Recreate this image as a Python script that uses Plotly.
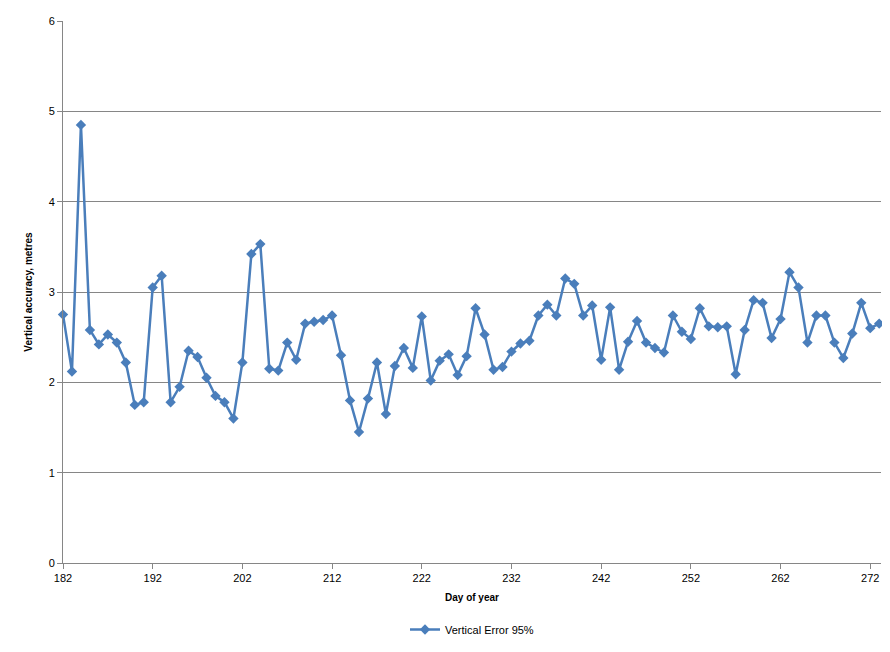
import plotly.graph_objects as go

days = list(range(182, 274))
vertical_error_95 = [2.75, 2.12, 4.85, 2.58, 2.42, 2.53, 2.44, 2.22, 1.75, 1.78,
    3.05, 3.18, 1.78, 1.95, 2.35, 2.28, 2.05, 1.85, 1.78, 1.60,
    2.22, 3.42, 3.53, 2.15, 2.13, 2.44, 2.25, 2.65, 2.67, 2.69,
    2.74, 2.30, 1.80, 1.45, 1.82, 2.22, 1.65, 2.18, 2.38, 2.16,
    2.73, 2.02, 2.24, 2.31, 2.08, 2.29, 2.82, 2.53, 2.14, 2.17,
    2.34, 2.43, 2.46, 2.74, 2.86, 2.74, 3.15, 3.09, 2.74, 2.85,
    2.25, 2.83, 2.14, 2.45, 2.68, 2.44, 2.38, 2.33, 2.74, 2.56,
    2.48, 2.82, 2.62, 2.61, 2.62, 2.09, 2.58, 2.91, 2.88, 2.49,
    2.70, 3.22, 3.05, 2.44, 2.74, 2.74, 2.44, 2.27, 2.54, 2.88,
    2.60, 2.65]
x_ticks = list(range(182, 273, 10))
y_ticks = [0, 1, 2, 3, 4, 5, 6]

fig = go.Figure(go.Scatter(
    x=days, y=vertical_error_95, mode="lines+markers", name="Vertical Error 95%",
    line=dict(color="#4a7ebb", width=2.5), cliponaxis=False,
    marker=dict(symbol="diamond", size=8, color="#4a7ebb")))

fig.update_layout(
    width=874, height=636, plot_bgcolor="white", paper_bgcolor="white",
    margin=dict(l=55, r=1, t=13, b=81),
    font=dict(family="Liberation Sans, Arial", size=11, color="black"),
    showlegend=True,
    legend=dict(orientation="h", x=0.5, xanchor="center", yref="container",
                y=0.0, yanchor="bottom", font=dict(size=11)),
    xaxis=dict(range=[182, 273.2], tickvals=x_ticks, showgrid=False, showline=True,
               linecolor="#868686", ticks="outside", ticklen=5, tickcolor="#868686",
               automargin=False,
               title=dict(text="<b>Day of year</b>", standoff=10, font=dict(size=10)),
               zeroline=False),
    yaxis=dict(range=[0, 6], tickvals=y_ticks, showgrid=True, gridcolor="#868686",
               showline=True, linecolor="#868686", ticks="outside", ticklen=5,
               tickcolor="#868686", zeroline=False, automargin=False,
               title=dict(text="<b>Vertical accuracy, metres</b>", standoff=14,
                          font=dict(size=10))),
)
fig.write_html("out.html")
